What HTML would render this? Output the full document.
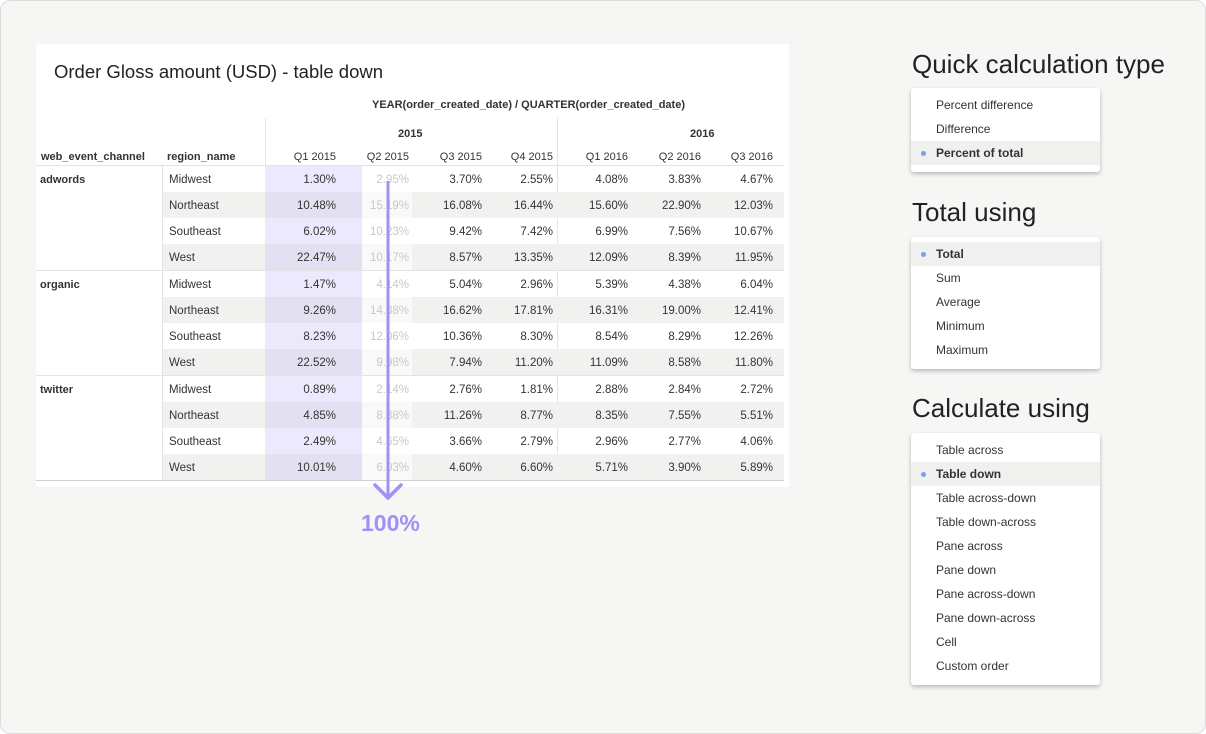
<!DOCTYPE html><html><head><style>
body{margin:0;width:1206px;height:734px;background:#fff;font-family:"Liberation Sans",sans-serif;overflow:hidden}
.bg{position:absolute;left:0;top:0;width:1204px;height:732px;background:#f6f6f4;border:1px solid #dcdcda;border-radius:10px}
.a{position:absolute;white-space:nowrap}
.panel{position:absolute;left:36px;top:44px;width:753px;height:443px;background:#fff}
.num{position:absolute;text-align:right;font-size:11.5px;color:#333}
.reg{position:absolute;font-size:11.5px;color:#333;left:169px}
.h{font-size:11px;color:#333}
.menu{position:absolute;left:911px;width:189px;background:#fff;border-radius:3px;box-shadow:0 2px 4px rgba(0,0,0,.25)}
.mi{height:24px;line-height:24px;font-size:12px;color:#333;padding-left:25px;position:relative}
.sel{background:#f0f1ef;font-weight:bold}
.sel:before{content:"";position:absolute;left:10px;top:10px;width:5px;height:5px;border-radius:50%;background:#7aa0ef}
.ht{position:absolute;left:912px;font-size:26px;color:#222}
</style></head><body><div class="bg"></div>
<div class="panel"></div>
<div class="a" style="left:54px;top:61px;font-size:18.5px;color:#222">Order Gloss amount (USD) - table down</div>
<div class="a h" style="left:372px;top:99px;font-weight:bold">YEAR(order_created_date) / QUARTER(order_created_date)</div>
<div class="a h" style="left:398px;top:128px;font-weight:bold">2015</div>
<div class="a h" style="left:690px;top:128px;font-weight:bold">2016</div>
<div class="a h" style="left:41px;top:151px;font-weight:bold">web_event_channel</div>
<div class="a h" style="left:167px;top:151px;font-weight:bold">region_name</div>
<div class="a" style="left:265px;top:118px;width:1px;height:362px;background:#e4e4e4"></div>
<div class="a" style="left:557px;top:118px;width:1px;height:362px;background:#e4e4e4"></div>
<div class="a" style="left:36px;top:165px;width:748px;height:1px;background:#e4e4e4"></div>
<div id="t"></div>
<script>
var rx=[336,409,482,553,628,701,773];
var heads=["Q1 2015","Q2 2015","Q3 2015","Q4 2015","Q1 2016","Q2 2016","Q3 2016"];
var groups=["adwords","organic","twitter"],regs=["Midwest","Northeast","Southeast","West"];
var d=[["1.30%","2.95%","3.70%","2.55%","4.08%","3.83%","4.67%"],["10.48%","15.19%","16.08%","16.44%","15.60%","22.90%","12.03%"],["6.02%","10.23%","9.42%","7.42%","6.99%","7.56%","10.67%"],["22.47%","10.17%","8.57%","13.35%","12.09%","8.39%","11.95%"],
["1.47%","4.14%","5.04%","2.96%","5.39%","4.38%","6.04%"],["9.26%","14.88%","16.62%","17.81%","16.31%","19.00%","12.41%"],["8.23%","12.06%","10.36%","8.30%","8.54%","8.29%","12.26%"],["22.52%","9.98%","7.94%","11.20%","11.09%","8.58%","11.80%"],
["0.89%","2.14%","2.76%","1.81%","2.88%","2.84%","2.72%"],["4.85%","8.88%","11.26%","8.77%","8.35%","7.55%","5.51%"],["2.49%","4.65%","3.66%","2.79%","2.96%","2.77%","4.06%"],["10.01%","6.03%","4.60%","6.60%","5.71%","3.90%","5.89%"]];
var h="";
heads.forEach(function(t,i){h+='<div class="num h" style="left:'+(rx[i]-80)+'px;width:80px;top:151px">'+t+'</div>'});
for(var g=0;g<3;g++){var gy=166+g*105;
h+='<div class="a h" style="left:40px;top:'+(gy+8)+'px;font-weight:bold">'+groups[g]+'</div>';
h+='<div class="a" style="left:162px;top:'+gy+'px;width:1px;height:104px;background:#e4e4e4"></div>';
if(g>0)h+='<div class="a" style="left:36px;top:'+(gy-1)+'px;width:748px;height:1px;background:#e4e4e4"></div>';
for(var r=0;r<4;r++){var y=gy+r*26,sh=r%2==1;
if(sh)h+='<div class="a" style="left:163px;top:'+y+'px;width:621px;height:26px;background:#f1f2f0"></div>';
h+='<div class="a" style="left:265px;top:'+y+'px;width:97px;height:26px;background:'+(sh?'#e3e0f2':'#ece9fc')+'"></div>';
h+='<div class="a" style="left:362px;top:'+y+'px;width:50px;height:26px;background:'+(sh?'#f9f9f9':'#fff')+'"></div>';
h+='<div class="reg" style="top:'+(y+8)+'px">'+regs[r]+'</div>';
var row=d[g*4+r];
for(var c=0;c<7;c++){h+='<div class="num" style="left:'+(rx[c]-80)+'px;width:80px;top:'+(y+8)+'px;color:'+(c==1?'#c8c8c8':'#333')+'">'+row[c]+'</div>'}
}}
h+='<div class="a" style="left:36px;top:480px;width:748px;height:1px;background:#d0d0d0"></div>';
document.getElementById('t').innerHTML=h;
</script>
<svg class="a" style="left:0;top:0" width="1206" height="734"><line x1="388" y1="181" x2="388" y2="497" stroke="#a48ff5" stroke-width="3"/><polyline points="375,485 388,498 401,485" fill="none" stroke="#a48ff5" stroke-width="3.5" stroke-linecap="round" stroke-linejoin="round"/></svg>
<div class="a" style="left:361px;top:510px;font-size:23px;font-weight:bold;color:#a48ff5">100%</div>
<div class="ht" style="top:49px">Quick calculation type</div>
<div class="menu" style="top:88px;padding:5px 0 7px"><div class="mi">Percent difference</div><div class="mi">Difference</div><div class="mi sel">Percent of total</div></div>
<div class="ht" style="top:197px">Total using</div>
<div class="menu" style="top:237px;padding:5px 0 7px"><div class="mi sel">Total</div><div class="mi">Sum</div><div class="mi">Average</div><div class="mi">Minimum</div><div class="mi">Maximum</div></div>
<div class="ht" style="top:393px">Calculate using</div>
<div class="menu" style="top:433px;padding:5px 0 7px"><div class="mi">Table across</div><div class="mi sel">Table down</div><div class="mi">Table across-down</div><div class="mi">Table down-across</div><div class="mi">Pane across</div><div class="mi">Pane down</div><div class="mi">Pane across-down</div><div class="mi">Pane down-across</div><div class="mi">Cell</div><div class="mi">Custom order</div></div>
</body></html>
